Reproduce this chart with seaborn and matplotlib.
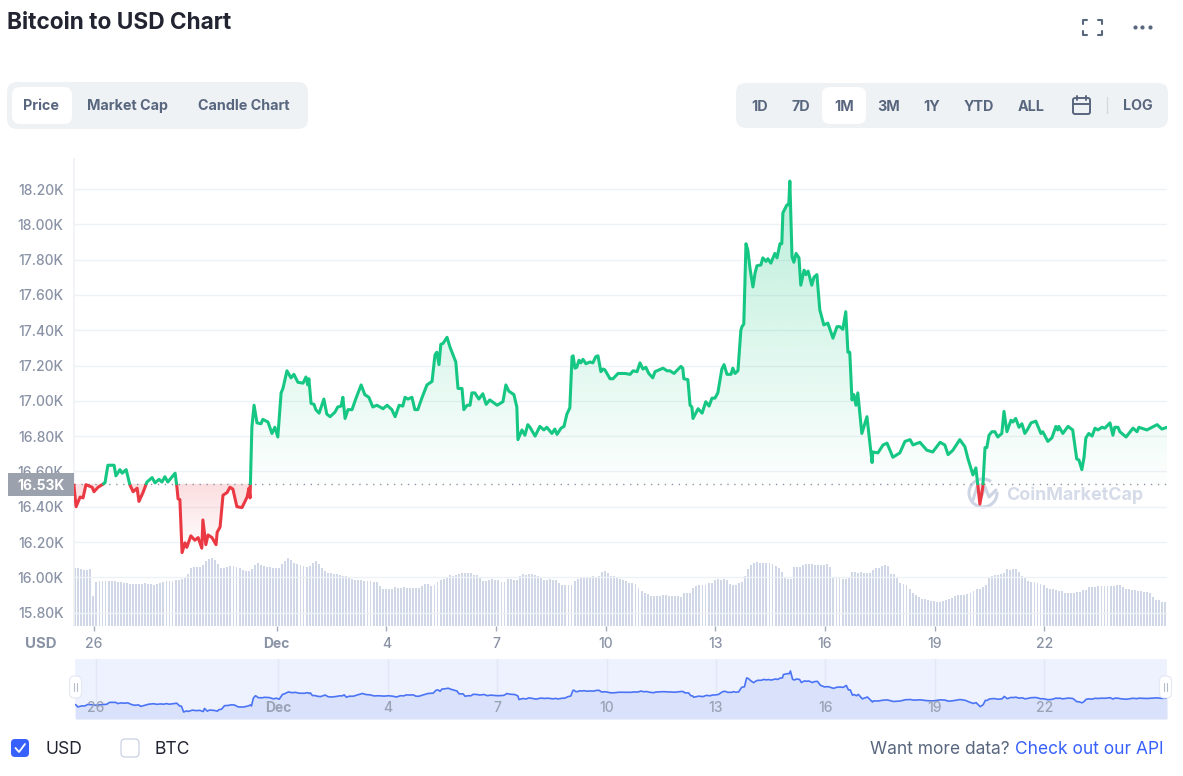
#!/usr/bin/env python3

import numpy as np
import pandas as pd
import seaborn as sns
import matplotlib.pyplot as plt
from matplotlib.patches import FancyBboxPatch, Arc

# days counted from 26 Nov
days = [
    -0.55, -0.49, -0.38, -0.30, -0.22, -0.05, 0.00, 0.11, 0.30, 0.38, 0.55, 0.60, 0.71, 0.77, 0.88, 0.98, 1.07, 1.18,
    1.23, 1.34, 1.45, 1.59, 1.67, 1.78, 1.86, 1.94, 2.02, 2.22, 2.27, 2.30, 2.35, 2.41, 2.49, 2.54, 2.65, 2.76, 2.85,
    2.95, 2.98, 3.06, 3.12, 3.23, 3.34, 3.37, 3.45, 3.53, 3.64, 3.72, 3.80, 3.91, 4.05, 4.19, 4.24, 4.27, 4.32, 4.38,
    4.46, 4.57, 4.62, 4.76, 4.87, 4.95, 5.03, 5.12, 5.17, 5.28, 5.39, 5.47, 5.58, 5.72, 5.80, 5.85, 5.88, 5.94, 6.02,
    6.07, 6.16, 6.29, 6.37, 6.46, 6.59, 6.67, 6.76, 6.81, 6.87, 6.95, 7.06, 7.17, 7.31, 7.41, 7.52, 7.63, 7.74, 7.91,
    8.02, 8.15, 8.24, 8.35, 8.45, 8.51, 8.59, 8.70, 8.78, 8.86, 8.97, 9.11, 9.25, 9.33, 9.38, 9.44, 9.49, 9.55, 9.66,
    9.74, 9.90, 9.96, 10.07, 10.12, 10.21, 10.29, 10.34, 10.42, 10.53, 10.64, 10.73, 10.83, 11.03, 11.19, 11.27, 11.35,
    11.49, 11.57, 11.60, 11.71, 11.79, 11.87, 11.93, 12.07, 12.20, 12.31, 12.39, 12.53, 12.61, 12.67, 12.78, 12.86,
    12.94, 13.02, 13.08, 13.11, 13.16, 13.21, 13.27, 13.32, 13.38, 13.46, 13.57, 13.65, 13.73, 13.79, 13.87, 13.93,
    13.98, 14.12, 14.20, 14.34, 14.45, 14.53, 14.67, 14.75, 14.86, 14.94, 15.02, 15.10, 15.18, 15.29, 15.35, 15.57,
    15.68, 15.76, 15.87, 16.06, 16.11, 16.14, 16.25, 16.31, 16.36, 16.39, 16.53, 16.64, 16.74, 16.83, 16.91, 16.99,
    17.07, 17.18, 17.24, 17.32, 17.43, 17.48, 17.54, 17.62, 17.70, 17.73, 17.78, 17.84, 17.89, 17.95, 18.03, 18.09,
    18.14, 18.25, 18.30, 18.39, 18.44, 18.52, 18.63, 18.69, 18.77, 18.82, 18.85, 18.96, 19.01, 19.04, 19.10, 19.15,
    19.21, 19.29, 19.34, 19.43, 19.48, 19.54, 19.64, 19.70, 19.78, 19.86, 19.97, 20.08, 20.22, 20.33, 20.41, 20.49,
    20.57, 20.63, 20.68, 20.74, 20.79, 20.85, 20.90, 21.01, 21.15, 21.29, 21.31, 21.45, 21.59, 21.70, 21.86, 22.05,
    22.19, 22.33, 22.41, 22.60, 22.79, 22.95, 23.15, 23.28, 23.37, 23.50, 23.69, 23.83, 23.91, 24.05, 24.13, 24.19,
    24.24, 24.32, 24.38, 24.43, 24.49, 24.57, 24.65, 24.73, 24.84, 24.90, 24.98, 25.09, 25.14, 25.22, 25.31, 25.39,
    25.47, 25.55, 25.64, 25.77, 25.91, 25.96, 26.10, 26.21, 26.32, 26.37, 26.40, 26.51, 26.65, 26.78, 26.89, 26.95,
    27.03, 27.09, 27.14, 27.22, 27.31, 27.39, 27.47, 27.58, 27.66, 27.80, 27.88, 27.93, 28.02, 28.07, 28.24, 28.43,
    28.54, 28.59, 28.81, 28.95, 29.09, 29.22, 29.36,
]
prices = [
    16523, 16400, 16455, 16450, 16525, 16510, 16485, 16510, 16535, 16635, 16635, 16575, 16610, 16590, 16610, 16525, 16485, 16505,
    16430, 16480, 16540, 16565, 16535, 16555, 16540, 16570, 16540, 16590, 16510, 16445, 16440, 16140, 16195, 16170, 16235, 16210, 16225,
    16165, 16325, 16185, 16240, 16225, 16185, 16255, 16285, 16465, 16480, 16510, 16500, 16400, 16395, 16455, 16505, 16450, 16850, 16975,
    16875, 16870, 16895, 16880, 16815, 16850, 16795, 17045, 17070, 17170, 17130, 17150, 17105, 17100, 17135, 17090, 17125, 16985, 16980,
    16950, 16930, 17010, 16925, 16910, 16935, 16965, 16970, 17020, 16900, 16950, 16950, 17015, 17090, 17035, 17020, 16965, 16975, 16955,
    16975, 16950, 16910, 16975, 16970, 17020, 17010, 17020, 16950, 16950, 17015, 17090, 17110, 17260, 17275, 17205, 17320, 17325, 17360,
    17305, 17220, 17070, 17070, 16950, 16975, 16975, 17045, 17045, 17010, 17040, 16980, 17005, 16975, 16995, 17090, 17055,
    17035, 16965, 16780, 16835, 16805, 16865, 16850, 16800, 16855, 16835, 16850, 16815, 16840, 16810, 16845, 16855,
    16925, 16960, 17250, 17255, 17185, 17190, 17230, 17215, 17235, 17210, 17220, 17215, 17250, 17255, 17165, 17180,
    17175, 17125, 17125, 17155, 17155, 17155, 17150, 17170, 17165, 17215, 17180, 17190, 17155, 17130, 17165, 17185,
    17170, 17170, 17155, 17195, 17185, 17125, 17120, 16975, 16965, 16900, 16955, 16930, 16995, 16970, 17015, 17015,
    17045, 17180, 17205, 17150, 17150, 17185, 17155, 17170, 17400, 17420, 17435, 17890, 17855, 17750, 17645, 17725,
    17765, 17770, 17810, 17790, 17805, 17780, 17835, 17810, 17890, 17890, 18065, 18110, 18110, 18245, 17815, 17785,
    17835, 17810, 17655, 17740, 17715, 17735, 17655, 17700, 17715, 17515, 17430, 17440, 17355, 17420, 17420, 17405,
    17505, 17275, 17275, 17005, 17035, 16975, 17045, 16815, 16910, 16650, 16710, 16705, 16750, 16760, 16680, 16705,
    16770, 16780, 16750, 16765, 16720, 16710, 16765, 16750, 16695, 16720, 16780, 16740, 16675, 16580, 16620, 16510,
    16415, 16510, 16735, 16735, 16805, 16825, 16825, 16795, 16815, 16940, 16825, 16890, 16880, 16900, 16850, 16870,
    16815, 16840, 16875, 16885, 16815, 16825, 16770, 16790, 16855, 16835, 16855, 16815, 16855, 16835, 16670, 16665,
    16610, 16680, 16790, 16815, 16800, 16845, 16835, 16850, 16845, 16875, 16805, 16850, 16850, 16825, 16795, 16845,
    16825, 16850, 16835, 16850, 16865, 16840, 16850,
]
# volume bars, one per two hours, relative height
volume = [
    58, 58, 57, 56, 56, 57, 30, 44, 45, 45,
    45, 45, 45, 45, 44, 44, 43, 43, 42, 42,
    42, 42, 42, 43, 42, 42, 41, 42, 43, 44,
    45, 45, 45, 46, 46, 47, 48, 52, 58, 59,
    59, 59, 61, 65, 67, 68, 66, 62, 58, 58,
    59, 60, 60, 59, 58, 56, 55, 55, 57, 61,
    63, 61, 60, 59, 59, 58, 58, 58, 62, 65,
    68, 66, 63, 62, 61, 60, 59, 60, 63, 65,
    62, 58, 55, 53, 53, 52, 52, 51, 50, 50,
    49, 47, 46, 46, 46, 45, 45, 45, 44, 44,
    40, 37, 37, 37, 37, 39, 38, 38, 39, 38,
    38, 38, 38, 38, 40, 42, 42, 40, 41, 44,
    46, 47, 49, 51, 50, 51, 52, 53, 53, 53,
    53, 51, 51, 48, 45, 45, 46, 47, 46, 46,
    44, 44, 47, 47, 46, 46, 50, 52, 51, 52,
    52, 51, 50, 49, 46, 46, 47, 46, 46, 43,
    41, 41, 41, 41, 45, 47, 49, 49, 49, 49,
    50, 49, 50, 54, 55, 53, 50, 50, 48, 47,
    46, 45, 43, 43, 42, 38, 35, 33, 32, 30,
    30, 30, 30, 31, 31, 30, 30, 30, 30, 29,
    33, 33, 33, 38, 40, 41, 41, 41, 43, 43,
    46, 47, 46, 47, 46, 42, 41, 41, 43, 44,
    50, 57, 61, 63, 64, 63, 63, 63, 63, 62,
    60, 58, 54, 48, 47, 47, 59, 59, 59, 61,
    62, 62, 62, 61, 61, 61, 61, 62, 59, 48,
    49, 48, 47, 47, 48, 54, 54, 53, 54, 53,
    53, 53, 56, 58, 58, 60, 61, 60, 52, 52,
    49, 43, 42, 41, 37, 33, 31, 29, 27, 27,
    26, 25, 25, 24, 24, 25, 26, 27, 28, 30,
    31, 31, 31, 32, 33, 35, 37, 37, 39, 41,
    48, 50, 51, 51, 52, 53, 57, 56, 57, 57,
    54, 50, 48, 45, 44, 44, 43, 42, 41, 38,
    37, 37, 36, 35, 35, 33, 33, 33, 33, 34,
    34, 36, 36, 39, 39, 39, 40, 40, 40, 40,
    40, 40, 41, 41, 39, 37, 37, 36, 36, 35,
    35, 34, 34, 33, 29, 26, 26, 24, 24, 23,
]
baseline = 16530
y_ticks = [15800, 16000, 16200, 16400, 16600, 16800, 17000, 17200, 17400, 17600, 17800, 18000, 18200]
x_ticks = [0, 5, 8, 11, 14, 17, 20, 23, 26]
x_labels = ['26', 'Dec', '4', '7', '10', '13', '16', '19', '22']
left_tabs = ['Price', 'Market Cap', 'Candle Chart']
range_tabs = ['1D', '7D', '1M', '3M', '1Y', 'YTD', 'ALL']

GREEN = '#16c784'
RED = '#ea3943'
GRID = '#eff2f5'
TICKTXT = '#8a93a6'
SLATE = '#58667e'
BLUE = '#3861fb'
W, H = 1183, 776

sns.set_theme(style='white')
plt.rcParams['font.family'] = ['Inter', 'DejaVu Sans']


def rect(px0, py0, px1, py1):
    return [px0 / W, 1 - py1 / H, (px1 - px0) / W, (py1 - py0) / H]


def split_segments(x, y, level):
    # cut the line where it crosses the opening price
    rows = []
    seg = 0
    for i in range(len(x)):
        side = 'up' if y[i] >= level else 'down'
        if i > 0:
            prev = 'up' if y[i - 1] >= level else 'down'
            if prev != side:
                xc = x[i - 1] + (level - y[i - 1]) / (y[i] - y[i - 1]) * (x[i] - x[i - 1])
                rows.append((xc, level, prev, seg))
                seg += 1
                rows.append((xc, level, side, seg))
        rows.append((x[i], y[i], side, seg))
    return pd.DataFrame(rows, columns=['day', 'price', 'side', 'seg'])


def gradient_fill(ax, sub, color, a_start, a_end, v_start, v_end, extent):
    poly = ax.fill_between(sub['day'], sub['price'], baseline, color='none', lw=0)
    n = 200
    img = np.zeros((n, 2, 4))
    img[..., :3] = plt.matplotlib.colors.to_rgb(color)
    vals = np.linspace(extent[3], extent[2], n)
    frac = np.clip((vals - v_end) / (v_start - v_end), 0, 1)
    img[..., 3] = (a_end + (a_start - a_end) * frac)[:, None]
    im = ax.imshow(img, extent=extent, aspect='auto', zorder=1, origin='upper')
    im.set_clip_path(poly.get_paths()[0], transform=ax.transData)


fig = plt.figure(figsize=(W / 100, H / 100), dpi=100, facecolor='white')

back = fig.add_axes([0, 0, 1, 1], zorder=0)
back.set_xlim(0, W)
back.set_ylim(H, 0)
back.axis('off')

# watermark sits behind the line
back.add_patch(Arc((983, 493), 28, 28, theta1=-5, theta2=305, color='#cdd4e3', lw=2.2))
back.plot([973, 977, 981, 985, 989, 996], [500, 487, 498, 487, 497, 490], color='#cdd4e3', lw=2.2)
back.text(1075, 495, 'CoinMarketCap', color='#d5dbe8', fontsize=12.9, fontweight='bold', ha='center', va='center')

xlim = (-0.547, 29.36)
ylim = (15727, 18370)

ax = fig.add_axes(rect(74, 159, 1167, 625.5), zorder=1)
ax.patch.set_alpha(0)

# volume on its own hidden axis
vol = fig.add_axes(rect(74, 159, 1167, 625.5), zorder=0.5)
vol.patch.set_alpha(0)
vol_days = xlim[0] + np.arange(len(volume)) / 12 + 0.03
sns.barplot(x=vol_days, y=volume, native_scale=True, color='#d0d7e6', saturation=1, width=0.62,
            linewidth=0, errorbar=None, ax=vol)
vol.set_xlim(xlim)
vol.set_ylim(0, 466.5)
vol.axis('off')

line_df = split_segments(days, prices, baseline)
gradient_fill(ax, line_df[line_df['side'] == 'up'].sort_values('day'), GREEN, 0.30, 0.01, 18245, baseline,
              [xlim[0], xlim[1], baseline, 18370])
gradient_fill(ax, line_df[line_df['side'] == 'down'].sort_values('day'), RED, 0.17, 0.0, baseline, 16140,
              [xlim[0], xlim[1], 16000, baseline])
ax.axhline(baseline, color='#8b93a3', lw=1, ls=(0, (1, 4)), zorder=2)
sns.lineplot(data=line_df, x='day', y='price', hue='side', units='seg', estimator=None, sort=False,
             palette={'up': GREEN, 'down': RED}, lw=2.2, legend=False, ax=ax, zorder=3)

ax.set_xlim(xlim)
ax.set_ylim(ylim)
ax.set_xlabel('')
ax.set_ylabel('')
ax.set_yticks(y_ticks)
ax.set_yticklabels([f'{v / 1000:.2f}K' for v in y_ticks])
ax.set_xticks(x_ticks)
ax.set_xticklabels(x_labels)
ax.grid(axis='y', color=GRID, lw=1, zorder=0)
ax.set_axisbelow(True)
ax.tick_params(axis='y', length=0, pad=7.5, labelsize=10, labelcolor=TICKTXT)
ax.tick_params(axis='x', length=3.5, width=1, color='#a3abba', pad=5, labelsize=10, labelcolor=TICKTXT, bottom=True)
for lab in ax.get_xticklabels():
    lab.set_fontweight('bold' if lab.get_text() == 'Dec' else 'medium')
for lab in ax.get_yticklabels():
    lab.set_fontweight('medium')
for s in ['top', 'right', 'bottom']:
    ax.spines[s].set_visible(False)
ax.spines['left'].set_color(GRID)

# navigator under the chart
nav = fig.add_axes(rect(75, 659, 1167, 719), zorder=1, facecolor='#eef1fe')
nav_x = (-0.567, 29.36)
nav.fill_between(days, prices, 15781, color='#d9e1fb', lw=0)
sns.lineplot(x=days, y=prices, color='#4b74f5', lw=1.2, sort=False, estimator=None, ax=nav)
nav.set_xlim(nav_x)
nav.set_ylim(15781, 18861)
nav.set_xticks(x_ticks)
nav.set_yticks([])
nav.set_xticklabels([])
nav.set_xlabel('')
nav.set_ylabel('')
nav.tick_params(axis='x', length=0)
nav.grid(axis='x', color='#e3e8f6', lw=1)
nav.set_axisbelow(True)
for s in nav.spines.values():
    s.set_visible(False)
for t, lab in zip(x_ticks, x_labels):
    nav.text(t, 16370, lab, ha='center', va='center', fontsize=10, color='#9aa3b5',
             fontweight='bold' if lab == 'Dec' else 'medium')

ui = fig.add_axes([0, 0, 1, 1], zorder=2)
ui.set_xlim(0, W)
ui.set_ylim(H, 0)
ui.axis('off')


def box(x0, y0, x1, y1, fc, r=8, ec='none', lw=0, **kw):
    ui.add_patch(FancyBboxPatch((x0, y0), x1 - x0, y1 - y0, boxstyle=f'round,pad=0,rounding_size={r}',
                                fc=fc, ec=ec, lw=lw, **kw))


ui.text(7, 23, 'Bitcoin to USD Chart', fontsize=16.3, fontweight='bold', color='#222531', va='center')

# fullscreen and menu icons
for cx, cy, dx, dy in [(1083, 20, 1, 1), (1102, 20, -1, 1), (1083, 35, 1, -1), (1102, 35, -1, -1)]:
    ui.plot([cx + 4 * dx, cx, cx], [cy, cy, cy + 4 * dy], color=SLATE, lw=1.5)
ui.scatter([1135, 1142.5, 1150], [27, 27, 27], s=9, color=SLATE, lw=0)

box(7, 82, 308, 129, GRID, r=10)
box(12, 87, 72, 124, 'white', r=8)
for label, cx in zip(left_tabs, [41, 128, 244]):
    ui.text(cx, 106, label, ha='center', va='center', fontsize=10.3, fontweight='bold', color=SLATE)

box(736, 83, 1168, 128, GRID, r=10)
box(822, 87, 866, 124, 'white', r=8)
for label, cx in zip(range_tabs, [760, 801, 844, 889, 932, 979, 1031]):
    ui.text(cx, 107, label, ha='center', va='center', fontsize=10.3, fontweight='bold', color=SLATE)
ui.text(1138, 106, 'LOG', ha='center', va='center', fontsize=10.3, fontweight='bold', color=SLATE)
ui.plot([1107.5, 1107.5], [97, 113], color='#d5d9e0', lw=1)
box(1073, 98, 1090, 114, 'none', r=2, ec=SLATE, lw=1.4)
ui.plot([1073, 1090], [104, 104], color=SLATE, lw=1.4)
ui.plot([1077, 1077], [96, 100], color=SLATE, lw=1.4)
ui.plot([1086, 1086], [96, 100], color=SLATE, lw=1.4)

# price label on the axis
ui.add_patch(plt.Rectangle((8, 473), 66, 23, fc='#9ca1ae', ec='none'))
ui.text(41, 485.5, '16.53K', ha='center', va='center', color='white', fontsize=10, fontweight='bold')
ui.text(40.5, 643.5, 'USD', ha='center', va='center', color=TICKTXT, fontsize=10.8, fontweight='bold')

# navigator handles
for hx in [75.5, 1165.5]:
    box(hx - 6, 676, hx + 6, 698, 'white', r=5, ec='#e4e8f2', lw=0.8)
    ui.plot([hx - 1.2, hx - 1.2], [683, 691], color='#b5bbc9', lw=0.8)
    ui.plot([hx + 1.2, hx + 1.2], [683, 691], color='#b5bbc9', lw=0.8)

# currency checkboxes
box(11, 739, 29, 757, BLUE, r=4)
ui.plot([15.5, 19, 25], [748, 752, 744], color='white', lw=1.3)
ui.text(46, 749.5, 'USD', va='center', fontsize=12.6, color='#222531')
box(121, 739, 139, 757, 'white', r=4, ec='#cfd6e4', lw=1)
ui.text(155, 749.5, 'BTC', va='center', fontsize=12.6, color='#222531')
ui.text(1010, 749.5, 'Want more data?', ha='right', va='center', fontsize=12.5, color=SLATE)
ui.text(1164, 749.5, 'Check out our API', ha='right', va='center', fontsize=12.5, color=BLUE)

plt.savefig('out.png', dpi=100)
